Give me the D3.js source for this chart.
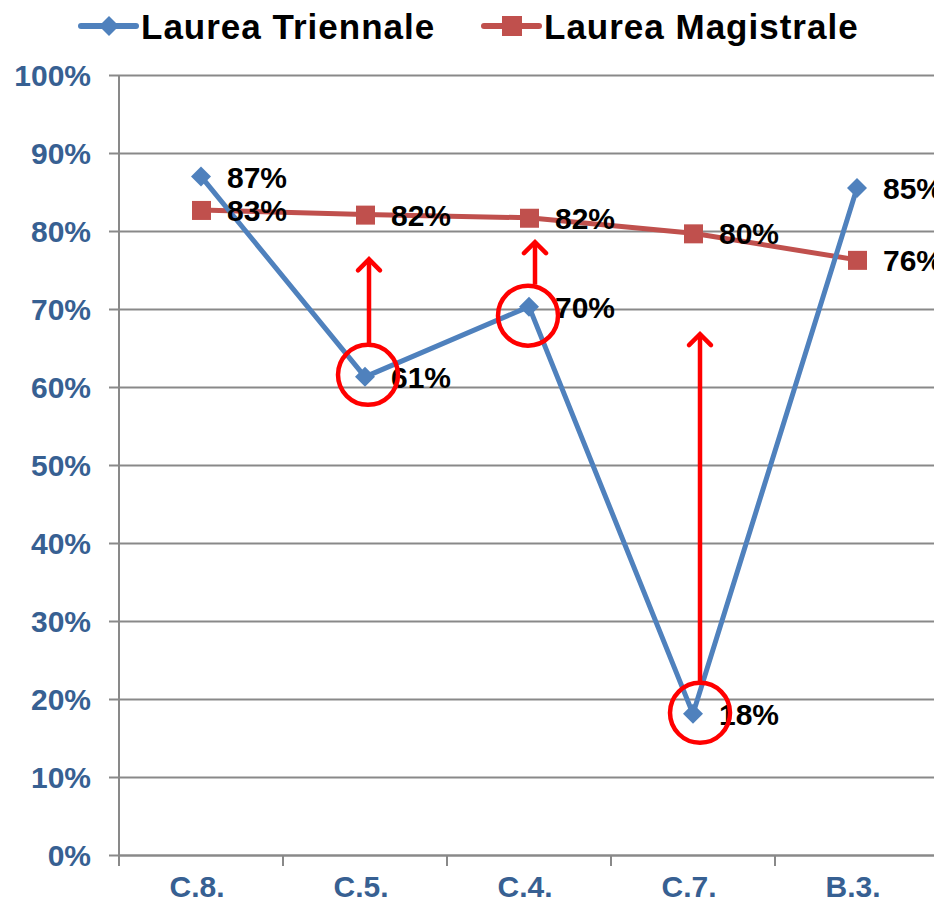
<!DOCTYPE html>
<html>
<head>
<meta charset="utf-8">
<script src="https://cdn.jsdelivr.net/npm/d3@7"></script>
<style>
  body { margin: 0; background: #fff; }
  text { font-family: "Liberation Sans", Arial, sans-serif; font-weight: bold; }
</style>
</head>
<body>
<div id="chart"></div>
<script>
var categories = ["C.8.", "C.5.", "C.4.", "C.7.", "B.3."],
    triennale = [0.87, 0.613, 0.703, 0.181, 0.855],
    magistrale = [0.827, 0.821, 0.817, 0.797, 0.763],
    triLabels = ["87%", "61%", "70%", "18%", "85%"],
    magLabels = ["83%", "82%", "82%", "80%", "76%"],
    yTicks = [0, 0.1, 0.2, 0.3, 0.4, 0.5, 0.6, 0.7, 0.8, 0.9, 1.0],
    // red marks: circled categories and the arrow tip value
    circled = ["C.5.", "C.4.", "C.7."],
    arrowTips = [0.765, 0.787, 0.669];

var margin = {top: 75, right: 0, bottom: 51, left: 119},
    width = 820,
    height = 780;

var svg = d3.select("#chart").append("svg")
    .attr("width", 934)
    .attr("height", 906)
    .style("display", "block");

var g = svg.append("g")
    .attr("transform", "translate(" + margin.left + "," + margin.top + ")");

var x = d3.scaleBand().domain(categories).range([0, width]);
var y = d3.scaleLinear().domain([0, 1]).range([height, 0]);

var blue = "#4F81BD", red = "#C0504D", axisText = "#376092", grid = "#898989";

// gridlines + y axis
var yAxis = g.append("g")
    .call(d3.axisLeft(y).tickValues(yTicks).tickFormat(d3.format(".0%")).tickSize(-width - 10).tickSizeOuter(0));
yAxis.select(".domain").remove();
yAxis.selectAll(".tick line")
    .attr("x1", -10)
    .attr("x2", width)
    .attr("stroke", grid)
    .attr("stroke-width", 2);
yAxis.selectAll(".tick text")
    .attr("x", -28)
    .attr("dy", "0.36em")
    .attr("fill", axisText)
    .style("font-size", "30px")
    .style("font-family", "'Liberation Sans', Arial, sans-serif")
    .style("font-weight", "bold");

g.append("line")
    .attr("x1", 0).attr("x2", 0)
    .attr("y1", 0).attr("y2", height + 10)
    .attr("stroke", grid).attr("stroke-width", 2);

// x axis
var xAxis = g.append("g")
    .attr("transform", "translate(0," + height + ")")
    .call(d3.axisBottom(x).tickSize(0));
xAxis.select(".domain").attr("stroke", grid).attr("stroke-width", 2);
xAxis.selectAll(".tick text")
    .attr("y", 42)
    .attr("dy", 0)
    .attr("dx", -4)
    .attr("fill", axisText)
    .style("font-size", "30px")
    .style("font-family", "'Liberation Sans', Arial, sans-serif")
    .style("font-weight", "bold");
xAxis.selectAll(".bt")
    .data(categories)
    .enter().append("line")
    .attr("x1", function(d) { return x(d); })
    .attr("x2", function(d) { return x(d); })
    .attr("y1", 0).attr("y2", 11)
    .attr("stroke", grid).attr("stroke-width", 2);

var cx = function(d, i) { return x(categories[i]) + x.bandwidth() / 2; };

var line = d3.line()
    .x(function(d, i) { return cx(d, i); })
    .y(function(d) { return y(d); });

// Magistrale
g.append("path").datum(magistrale)
    .attr("d", line).attr("fill", "none")
    .attr("stroke", red).attr("stroke-width", 5).attr("stroke-linejoin", "round");
g.selectAll(".sq").data(magistrale).enter().append("rect")
    .attr("x", function(d, i) { return cx(d, i) - 9; })
    .attr("y", function(d) { return y(d) - 9; })
    .attr("width", 19).attr("height", 19)
    .attr("fill", red);

// Triennale
g.append("path").datum(triennale)
    .attr("d", line).attr("fill", "none")
    .attr("stroke", blue).attr("stroke-width", 5).attr("stroke-linejoin", "round");
g.selectAll(".dm").data(triennale).enter().append("path")
    .attr("d", "M0,-10L10,0L0,10L-10,0Z")
    .attr("transform", function(d, i) { return "translate(" + cx(d, i) + "," + y(d) + ")"; })
    .attr("fill", blue);

// data labels
g.selectAll(".ml").data(magistrale).enter().append("text")
    .attr("x", function(d, i) { return cx(d, i) + 26; })
    .attr("y", function(d) { return y(d); })
    .attr("dy", "0.37em")
    .style("font-size", "30px")
    .text(function(d, i) { return magLabels[i]; });
g.selectAll(".tl").data(triennale).enter().append("text")
    .attr("x", function(d, i) { return cx(d, i) + 26; })
    .attr("y", function(d) { return y(d); })
    .attr("dy", "0.37em")
    .style("font-size", "30px")
    .text(function(d, i) { return triLabels[i]; });

// red annotations
var nudge = {"C.5.": [3, -2], "C.4.": [-1, 9], "C.7.": [7, -1]},
    arrowDx = {"C.5.": 4, "C.4.": 6, "C.7.": 7},
    r = 30;
circled.forEach(function(c, k) {
    var i = categories.indexOf(c),
        px = cx(null, i), py = y(triennale[i]),
        ccx = px + nudge[c][0], ccy = py + nudge[c][1],
        ax = px + arrowDx[c],
        top = y(arrowTips[k]);
    g.append("circle")
        .attr("cx", ccx).attr("cy", ccy).attr("r", r)
        .attr("fill", "none").attr("stroke", "#FF0000").attr("stroke-width", 4.5);
    g.append("line")
        .attr("x1", ax).attr("x2", ax)
        .attr("y1", ccy - r - 1).attr("y2", top + 2)
        .attr("stroke", "#FF0000").attr("stroke-width", 4.5);
    g.append("path")
        .attr("d", "M" + (ax - 11) + "," + (top + 12) + "L" + ax + "," + (top + 1) + "L" + (ax + 11) + "," + (top + 12))
        .attr("fill", "none").attr("stroke", "#FF0000").attr("stroke-width", 4.5)
        .attr("stroke-linecap", "round").attr("stroke-linejoin", "miter");
});

// legend
var legend = svg.append("g");
var items = [
    {name: "Laurea Triennale", color: blue, x0: 81, shape: "diamond"},
    {name: "Laurea Magistrale", color: red, x0: 484, shape: "square"}
];
items.forEach(function(it) {
    var lg = legend.append("g").attr("transform", "translate(" + it.x0 + ",26)");
    lg.append("line").attr("x1", 0).attr("x2", 55).attr("y1", 0).attr("y2", 0)
        .attr("stroke", it.color).attr("stroke-width", 6).attr("stroke-linecap", "round");
    if (it.shape === "diamond") {
        lg.append("path").attr("d", "M28,-10L38,0L28,10L18,0Z").attr("fill", it.color);
    } else {
        lg.append("rect").attr("x", 18).attr("y", -10).attr("width", 20).attr("height", 20).attr("fill", it.color);
    }
    lg.append("text")
        .attr("x", 60).attr("y", 0).attr("dy", "0.36em")
        .style("font-size", "35px")
        .style("letter-spacing", "1px")
        .text(it.name);
});
</script>
</body>
</html>
